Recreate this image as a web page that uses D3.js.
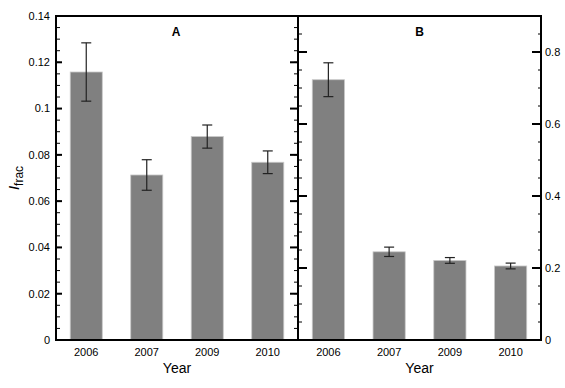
<!DOCTYPE html>
<html><head><meta charset="utf-8">
<script src="https://cdn.jsdelivr.net/npm/d3@7"></script>
<style>
body{margin:0;background:#fff;}
text{font-family:"Liberation Sans",Arial,Helvetica,sans-serif;fill:#000;}
</style></head>
<body><svg id="c" width="565" height="388"></svg>
<script>
const years = ["2006","2007","2009","2010"];
const valuesA = [0.1158, 0.0713, 0.0879, 0.0768];
const errorsA = [0.0126, 0.0066, 0.0050, 0.0049];
const valuesB = [0.723, 0.245, 0.221, 0.2056];
const errorsB = [0.047, 0.013, 0.008, 0.008];
const ticksA = [0, 0.02, 0.04, 0.06, 0.08, 0.1, 0.12, 0.14];
const ticksB = [0, 0.2, 0.4, 0.6, 0.8];

const svg = d3.select("#c");
const plotTop = 16, plotBottom = 340;
const xA0 = 56, xMid = 298, xB1 = 541;

const yA = d3.scaleLinear().domain([0, 0.14]).range([plotBottom, plotTop]);
const yB = d3.scaleLinear().domain([0, 0.9]).range([plotBottom, plotTop]);
const xA = d3.scaleBand().domain(years).range([xA0, xMid]).paddingInner(0.47).paddingOuter(0.235);
const xB = d3.scaleBand().domain(years).range([xMid, xB1]).paddingInner(0.47).paddingOuter(0.235);

function panel(x, y, vals, errs) {
  const g = svg.append("g");
  g.selectAll("rect").data(years).join("rect")
    .attr("x", d => x(d)).attr("width", x.bandwidth())
    .attr("y", (d,i) => y(vals[i])).attr("height", (d,i) => y(0) - y(vals[i]))
    .attr("fill", "#808080").attr("stroke", "#c8c8c8").attr("stroke-width", 0.8);
  const eb = g.selectAll("g.e").data(years).join("g").attr("class","e");
  const cx = d => x(d) + x.bandwidth()/2;
  eb.append("line").attr("x1", cx).attr("x2", cx)
    .attr("y1", (d,i) => y(vals[i]+errs[i])).attr("y2", (d,i) => y(vals[i]-errs[i]))
    .attr("stroke", "#222").attr("stroke-width", 1.2);
  [1,-1].forEach(s => {
    eb.append("line").attr("x1", d => cx(d)-5).attr("x2", d => cx(d)+5)
      .attr("y1", (d,i) => y(vals[i]+s*errs[i])).attr("y2", (d,i) => y(vals[i]+s*errs[i]))
      .attr("stroke", "#222").attr("stroke-width", 1.2);
  });
  g.selectAll("text.xl").data(years).join("text").attr("class","xl")
    .attr("x", cx).attr("y", 356).attr("text-anchor","middle").attr("font-size", 11).text(d => d);
}
panel(xA, yA, valuesA, errorsA);
panel(xB, yB, valuesB, errorsB);

const minorA = d3.range(0, 0.1401, 0.005);
const minorB = d3.range(0, 0.9001, 0.05);
function ticks(xPos, y, minors, majors, dir, majLen, minLen) {
  const g = svg.append("g").attr("stroke", "#000");
  g.selectAll("line.mi").data(minors).join("line").attr("class","mi")
    .attr("x1", xPos).attr("x2", xPos + dir*minLen)
    .attr("y1", d => y(d)).attr("y2", d => y(d)).attr("stroke-width", 1);
  g.selectAll("line.ma").data(majors).join("line").attr("class","ma")
    .attr("x1", xPos).attr("x2", xPos + dir*majLen)
    .attr("y1", d => y(d)).attr("y2", d => y(d)).attr("stroke-width", 2);
}
ticks(xA0, yA, minorA, ticksA, 1, 6, 4);
ticks(xMid, yA, minorA, ticksA, -1, 8, 4);
ticks(xMid, yB, minorB, ticksB, 1, 9, 4);
ticks(xB1, yB, minorB, ticksB, -1, 9, 3);

svg.append("path")
  .attr("d", `M${xA0},${plotTop}H${xB1}V${plotBottom}H${xA0}Z M${xMid},${plotTop}V${plotBottom}`)
  .attr("fill","none").attr("stroke","#000").attr("stroke-width",2);

const fmtA = d => d === 0 ? "0" : String(+d.toFixed(2));
svg.append("g").selectAll("text").data(ticksA).join("text")
  .attr("x", 50).attr("y", d => yA(d)).attr("dy","0.35em").attr("text-anchor","end")
  .attr("font-size", 11).text(fmtA);
svg.append("g").selectAll("text").data(ticksB).join("text")
  .attr("x", 545).attr("y", d => yB(d)).attr("dy","0.35em").attr("text-anchor","start")
  .attr("font-size", 11).text(d => d === 0 ? "0" : String(+d.toFixed(1)));

svg.append("text").attr("x", (xA0+xMid)/2 - 1).attr("y", 36).attr("text-anchor","middle")
  .attr("font-size", 12).attr("font-weight","bold").text("A");
svg.append("text").attr("x", (xMid+xB1)/2).attr("y", 36).attr("text-anchor","middle")
  .attr("font-size", 12).attr("font-weight","bold").text("B");

svg.append("text").attr("x", (xA0+xMid)/2).attr("y", 373).attr("text-anchor","middle").attr("font-size", 14).text("Year");
svg.append("text").attr("x", (xMid+xB1)/2).attr("y", 373).attr("text-anchor","middle").attr("font-size", 14).text("Year");
const yl = svg.append("text").attr("transform","translate(19,178) rotate(-90)").attr("text-anchor","middle").attr("font-size", 15);
yl.append("tspan").attr("font-style","italic").text("I");
yl.append("tspan").attr("font-size", 12).attr("dy", 4).text("frac");
</script></body></html>
